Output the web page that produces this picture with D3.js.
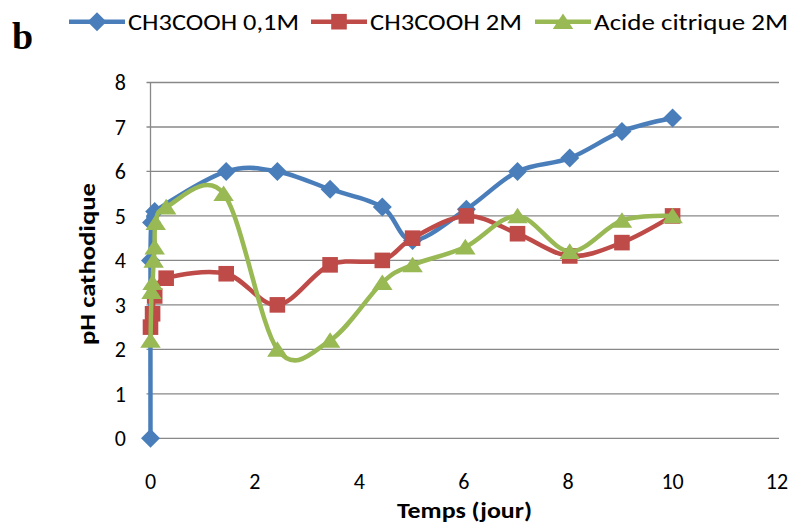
<!DOCTYPE html>
<html><head><meta charset="utf-8">
<script src="https://cdn.jsdelivr.net/npm/d3@7"></script>
<style>
html,body{margin:0;padding:0;background:#fff;}
svg{display:block;}
text{font-family:Carlito,Lato,"Liberation Sans",sans-serif;fill:#000;}
</style></head>
<body>
<svg id="chart" width="796" height="529"></svg>
<script>
// ---- data ----
const seriesNames = ["CH3COOH 0,1M", "CH3COOH 2M", "Acide citrique 2M"];
const blueX = [0, 0, 0.02, 0.08, 1.45, 2.43, 3.44, 4.44, 5.02, 6.05, 7.03, 8.03, 9.03, 10];
const blueY = [0, 4.0, 4.85, 5.1, 6.0, 6.0, 5.6, 5.2, 4.45, 5.15, 6.0, 6.3, 6.9, 7.2];
const redX = [0, 0.04, 0.08, 0.3, 1.45, 2.43, 3.44, 4.44, 5.02, 6.05, 7.03, 8.03, 9.03, 10];
const redY = [2.5, 2.8, 3.2, 3.6, 3.7, 3.0, 3.9, 4.0, 4.5, 5.0, 4.6, 4.1, 4.4, 5.0];
const greenX = [0, 0.02, 0.04, 0.06, 0.08, 0.1, 0.3, 1.4, 2.43, 3.44, 4.44, 5.02, 6.03, 7.03, 8.03, 9.03, 10];
const greenY = [2.2, 3.3, 3.5, 4.0, 4.3, 4.85, 5.2, 5.5, 2.0, 2.2, 3.5, 3.9, 4.3, 5.0, 4.2, 4.9, 5.0];
const xTicks = [0, 2, 4, 6, 8, 10, 12];
const yTicks = [0, 1, 2, 3, 4, 5, 6, 7, 8];
const colors = ["#4A7EBB", "#BE4B48", "#98B954"];

const svg = d3.select("#chart");
const x = d3.scaleLinear().domain([0, 12]).range([150.5, 777]);
const y = d3.scaleLinear().domain([0, 8]).range([438.3, 82.5]);

// custom Excel-like marker shapes
const diamond = { draw(ctx, s) { const r = s; ctx.moveTo(0, -r); ctx.lineTo(r, 0); ctx.lineTo(0, r); ctx.lineTo(-r, 0); ctx.closePath(); } };
const square = { draw(ctx, s) { ctx.rect(-s, -s, 2 * s, 2 * s); } };
const triangle = { draw(ctx, s) { ctx.moveTo(0, -s * 1.0); ctx.lineTo(s * 1.25, s * 0.9); ctx.lineTo(-s * 1.25, s * 0.9); ctx.closePath(); } };
const markers = [diamond, square, triangle];
const markerR = [9.5, 7.8, 8.2];

// gridlines
svg.append("g").selectAll("line").data(yTicks).join("line")
  .attr("x1", x(0) - 4).attr("x2", x(12) + 2)
  .attr("y1", d => y(d)).attr("y2", d => y(d))
  .attr("stroke", "#888").attr("stroke-width", 1.3);
svg.append("line").attr("x1", x(0)).attr("x2", x(0)).attr("y1", y(0)).attr("y2", y(8))
  .attr("stroke", "#888").attr("stroke-width", 1.3);

// y tick labels
svg.append("g").selectAll("text").data(yTicks).join("text")
  .attr("x", 126).attr("y", d => y(d)).attr("dy", "0.36em")
  .attr("text-anchor", "end").style("font-size", "22px").text(d => d);
// x tick labels
svg.append("g").selectAll("text").data(xTicks).join("text")
  .attr("x", d => x(d)).attr("y", 481).attr("dy", "0.36em")
  .attr("text-anchor", "middle").style("font-size", "22px").text(d => d);

// axis titles
svg.append("text").attr("x", 397).attr("y", 518)
  .attr("textLength", 135).attr("lengthAdjust", "spacingAndGlyphs")
  .style("font-size", "23px").style("font-weight", "bold")
  .text("Temps (jour)");
svg.append("text").attr("transform", "translate(95,345) rotate(-90)")
  .attr("textLength", 162).attr("lengthAdjust", "spacingAndGlyphs")
  .style("font-size", "23px").style("font-weight", "bold")
  .text("pH cathodique");

// panel letter
svg.append("text").attr("x", 12).attr("y", 49)
  .style("font-family", "'Liberation Serif',serif").style("font-size", "38px").style("font-weight", "bold")
  .text("b");

// series
const series = [
  {xs: blueX, ys: blueY}, {xs: redX, ys: redY}, {xs: greenX, ys: greenY}
];
const line = d3.line().x(d => x(d[0])).y(d => y(d[1])).curve(d3.curveCardinal.tension(0));
series.forEach((s, i) => {
  const pts = s.xs.map((v, j) => [v, s.ys[j]]);
  const g = svg.append("g");
  g.append("path").datum(pts).attr("d", line).attr("fill", "none")
    .attr("stroke", colors[i]).attr("stroke-width", 4.5).attr("stroke-linejoin", "round");
  g.selectAll("path.m").data(pts).join("path").attr("class", "m")
    .attr("transform", d => `translate(${x(d[0])},${y(d[1])})`)
    .attr("d", d3.symbol().type(markers[i]).size(markerR[i]))
    .attr("fill", colors[i]);
});

// legend
const legX = [69, 311, 535];
const legTextW = [171, 152, 194];
const legG = svg.append("g");
seriesNames.forEach((name, i) => {
  const lx = legX[i], ly = 21.7;
  legG.append("line").attr("x1", lx).attr("x2", lx + 56).attr("y1", ly).attr("y2", ly)
    .attr("stroke", colors[i]).attr("stroke-width", 4.5);
  legG.append("path").attr("transform", `translate(${lx + 28},${ly})`)
    .attr("d", d3.symbol().type(markers[i]).size(markerR[i])).attr("fill", colors[i]);
  legG.append("text").attr("x", lx + 59).attr("y", ly).attr("dy", "0.36em")
    .attr("textLength", legTextW[i]).attr("lengthAdjust", "spacingAndGlyphs")
    .style("font-size", "22px").text(name);
});
</script>
</body></html>
